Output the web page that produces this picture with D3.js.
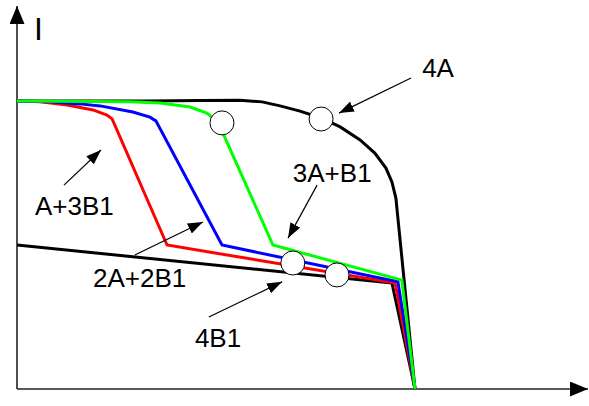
<!DOCTYPE html>
<meta charset="utf-8">
<style>
  body { margin: 0; background: #fff; }
  .label { font-family: "Liberation Sans", Arial, sans-serif; font-size: 26px; fill: #000; }
  .curve { fill: none; stroke-width: 3; stroke-linejoin: miter; }
  .axis line { stroke: #222; stroke-width: 1.6; }
  .note { stroke: #000; stroke-width: 1.2; }
</style>
<svg width="589" height="406"></svg>
<script src="https://d3js.org/d3.v7.min.js"></script>
<script>
// I-V curves, voltage 0..100 (open circuit = 100), current 0..100 (short circuit of 4A = 100)
var curve4A = [[0,100],[33.4,100],[46,100.2],[56,100.3],[61.6,99.7],[66.1,98.3],[71.1,96.5],
               [76.4,94.1],[81.2,91],[86.2,86.5],[89.9,81.9],[92.7,76.7],[94.2,71.9],[95.2,66.3],[100,0]];
var curve3AB1 = [[0,100],[28.4,99.7],[35.9,99.3],[43.5,97.9],[47.7,95.8],[50.5,92.7],[64.3,50],[96.7,37.8],[100,0]];
var curve2A2B1 = [[0,100],[8.3,99.7],[15.8,99],[20.9,98.3],[29.1,96.2],[33.4,94.4],[34.9,93.1],[51.5,50],[95.7,37.2],[100,0]];
var curveA3B1 = [[0,100],[5.8,99.7],[12.6,98.6],[19.1,96.9],[22.6,95.1],[23.9,93.8],[37.7,50],[95,36.8],[100,0]];
var curve4B1 = [[0,50],[94.2,36.8],[100,0]];

// maximum power points
var mpp = [[51.5,92.4],[76.4,93.75],[69.3,43.75],[80.4,39.6]];

// annotations: label, label anchor [v,i], arrow from, arrow to
var noteLabels = ["4A", "3A+B1", "A+3B1", "2A+2B1", "4B1"];
var notePos = [[101.8,108.3],[69.3,71.9],[4.5,60.4],[19.1,35.4],[44.7,14.6]];
var noteFrom = [[99,108],[75.4,70.8],[11.8,70.8],[29.6,46.5],[48.2,25]];
var noteTo = [[80.9,95.8],[68.1,52.4],[21.1,83],[46.7,58],[66.6,37.2]];

var svg = d3.select("svg");
var W = 589, H = 406;

var x = d3.scaleLinear().domain([0, 100]).range([17, 415]);
var y = d3.scaleLinear().domain([0, 100]).range([389, 101]);

var defs = svg.append("defs");
defs.append("marker")
    .attr("id", "axisHead")
    .attr("markerUnits", "userSpaceOnUse")
    .attr("viewBox", "0 0 18 15")
    .attr("refX", 18).attr("refY", 7.5)
    .attr("markerWidth", 18).attr("markerHeight", 15)
    .attr("orient", "auto")
  .append("path")
    .attr("d", "M0,0L18,7.5L0,15Z")
    .attr("fill", "#000");
defs.append("marker")
    .attr("id", "noteHead")
    .attr("markerUnits", "userSpaceOnUse")
    .attr("viewBox", "0 0 15 11")
    .attr("refX", 15).attr("refY", 5.5)
    .attr("markerWidth", 15).attr("markerHeight", 11)
    .attr("orient", "auto")
  .append("path")
    .attr("d", "M0,0L15,5.5L0,11Z")
    .attr("fill", "#000");

// axes
var axes = svg.append("g").attr("class", "axis");
axes.append("line")
    .attr("x1", x(0)).attr("y1", y(0))
    .attr("x2", x(0)).attr("y2", 6)
    .attr("marker-end", "url(#axisHead)");
axes.append("line")
    .attr("x1", x(0)).attr("y1", y(0))
    .attr("x2", W - 1).attr("y2", y(0))
    .attr("marker-end", "url(#axisHead)");

svg.append("text")
    .attr("class", "label")
    .attr("x", 34).attr("y", 40)
    .style("font-size", "32px")
    .text("I");

var line = d3.line()
    .x(function(d) { return x(d[0]); })
    .y(function(d) { return y(d[1]); });

var series = [
  {data: curve4A, color: "#000"},
  {data: curve4B1, color: "#000"},
  {data: curveA3B1, color: "#ff0000"},
  {data: curve2A2B1, color: "#0000ff"},
  {data: curve3AB1, color: "#00ff00"}
];

svg.append("g")
  .selectAll("path")
  .data(series)
  .enter()
  .append("path")
    .attr("class", "curve")
    .attr("d", function(d) { return line(d.data); })
    .attr("stroke", function(d) { return d.color; });

svg.append("g")
  .selectAll("circle")
  .data(mpp)
  .enter()
  .append("circle")
    .attr("cx", function(d) { return x(d[0]); })
    .attr("cy", function(d) { return y(d[1]); })
    .attr("r", 12)
    .attr("fill", "#fff")
    .attr("stroke", "#000")
    .attr("stroke-width", 1);

var notes = svg.append("g");
notes.selectAll("line")
  .data(noteFrom)
  .enter()
  .append("line")
    .attr("class", "note")
    .attr("x1", function(d) { return x(d[0]); })
    .attr("y1", function(d) { return y(d[1]); })
    .attr("x2", function(d, i) { return x(noteTo[i][0]); })
    .attr("y2", function(d, i) { return y(noteTo[i][1]); })
    .attr("marker-end", "url(#noteHead)");

notes.selectAll("text")
  .data(noteLabels)
  .enter()
  .append("text")
    .attr("class", "label")
    .attr("x", function(d, i) { return x(notePos[i][0]); })
    .attr("y", function(d, i) { return y(notePos[i][1]); })
    .text(function(d) { return d; });
</script>
